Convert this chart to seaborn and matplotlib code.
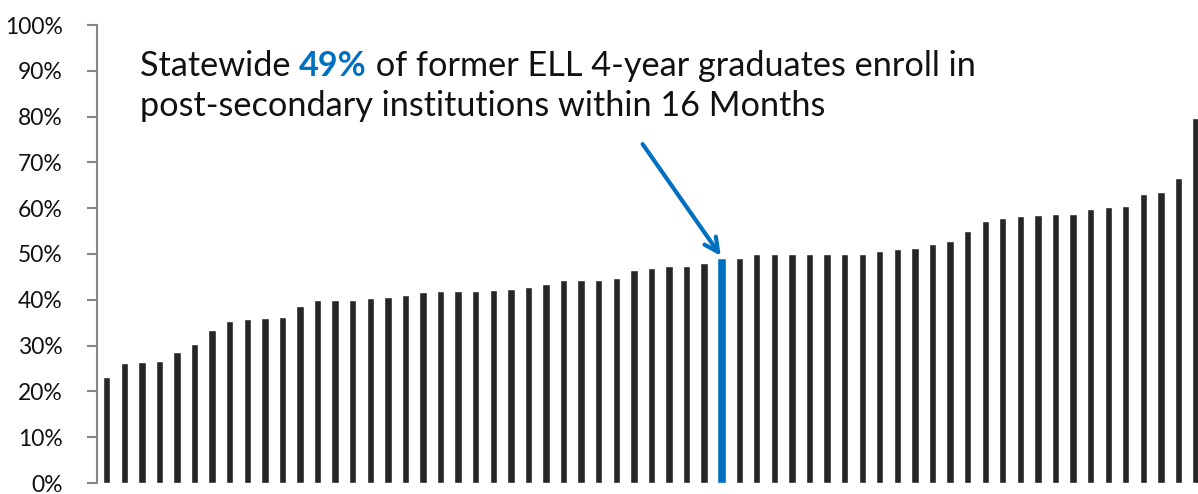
import matplotlib
matplotlib.use("Agg")
import matplotlib.pyplot as plt
import seaborn as sns
import numpy as np
import pandas as pd

# Enrollment rate per district (sorted), one bar per district
rates = [23.1, 26.2, 26.4, 26.6, 28.5, 30.4, 33.3, 35.3, 35.9, 36.0,
         36.2, 38.7, 39.9, 39.9, 39.9, 40.5, 40.6, 41.0, 41.6, 41.9,
         42.0, 42.0, 42.1, 42.4, 42.7, 43.4, 44.3, 44.3, 44.3, 44.8,
         46.5, 46.9, 47.4, 47.4, 48.0, 49.1, 49.1, 49.9, 49.9, 49.9,
         49.9, 49.9, 49.9, 49.9, 50.7, 51.2, 51.4, 52.2, 52.8, 55.1,
         57.1, 57.9, 58.2, 58.6, 58.7, 58.7, 59.9, 60.3, 60.5, 63.0,
         63.5, 66.5, 79.8]
highlight_index = 35  # statewide bar
groups = ["Statewide" if i == highlight_index else "District" for i in range(len(rates))]
y_ticks = [0, 10, 20, 30, 40, 50, 60, 70, 80, 90, 100]
tick_labels = [f"{t}%" for t in y_ticks]

df = pd.DataFrame({"pos": [str(i) for i in range(len(rates))],
                   "rate": [r / 100 for r in rates],
                   "group": groups})

sns.set_theme(style="white")
plt.rcParams["font.family"] = ["Lato", "DejaVu Sans"]

fig = plt.figure(figsize=(11.98, 4.94), dpi=100)
ax = fig.add_axes([97.5 / 1198, 1 - 483 / 494, 1 - 97.5 / 1198, (483 - 25) / 494])

sns.barplot(data=df, x="pos", y="rate", hue="group",
            palette={"District": "#262626", "Statewide": "#0070C0"},
            width=0.42, legend=False, ax=ax, saturation=1, dodge=False)

# widen the highlighted bar slightly
for p in ax.patches:
    if abs(p.get_x() + p.get_width() / 2 - highlight_index) < 0.01 and p.get_height() > 0:
        w = 0.52
        p.set_x(highlight_index - w / 2)
        p.set_width(w)

ax.set_xlim(-0.524, 62.11)
ax.set_ylim(0, 1)
ax.set_yticks([t / 100 for t in y_ticks])
ax.set_yticklabels(tick_labels, fontsize=16.5, color="#111111")
ax.set_xticks([])
ax.set_xlabel("")
ax.set_ylabel("")
for s in ["top", "right", "bottom"]:
    ax.spines[s].set_visible(False)
ax.spines["left"].set_color("#868686")
ax.spines["left"].set_linewidth(1.5)
ax.tick_params(axis="y", which="major", direction="out", length=7, width=1.5,
               color="#868686", pad=18, left=True)

# annotation text
fs = 24.7
y1, y2 = 0.889, 0.801
t1 = ax.text(0.0383, y1, "Statewide ", transform=ax.transAxes, fontsize=fs,
             color="#111111", va="baseline", ha="left")
fig.canvas.draw()
bb = t1.get_window_extent()
inv = ax.transAxes.inverted()
x1 = inv.transform((bb.x1, bb.y0))[0]
t2 = ax.text(x1, y1, "49%", transform=ax.transAxes, fontsize=fs,
             color="#0070C0", fontweight="bold", va="baseline", ha="left")
fig.canvas.draw()
bb2 = t2.get_window_extent()
x2 = inv.transform((bb2.x1, bb2.y0))[0]
ax.text(x2, y1, " of former ELL 4-year graduates enroll in", transform=ax.transAxes,
        fontsize=fs, color="#111111", va="baseline", ha="left")
ax.text(0.0383, y2, "post-secondary institutions within 16 Months", transform=ax.transAxes,
        fontsize=fs, color="#111111", va="baseline", ha="left")

# arrow pointing to the statewide bar
ax.annotate("", xy=(highlight_index - 0.05, rates[highlight_index] / 100 + 0.005),
            xytext=(30.5, 0.74),
            arrowprops=dict(arrowstyle="->", color="#0070C0", lw=3,
                            mutation_scale=25, shrinkA=0, shrinkB=0))

fig.savefig("out.png", dpi=100)
